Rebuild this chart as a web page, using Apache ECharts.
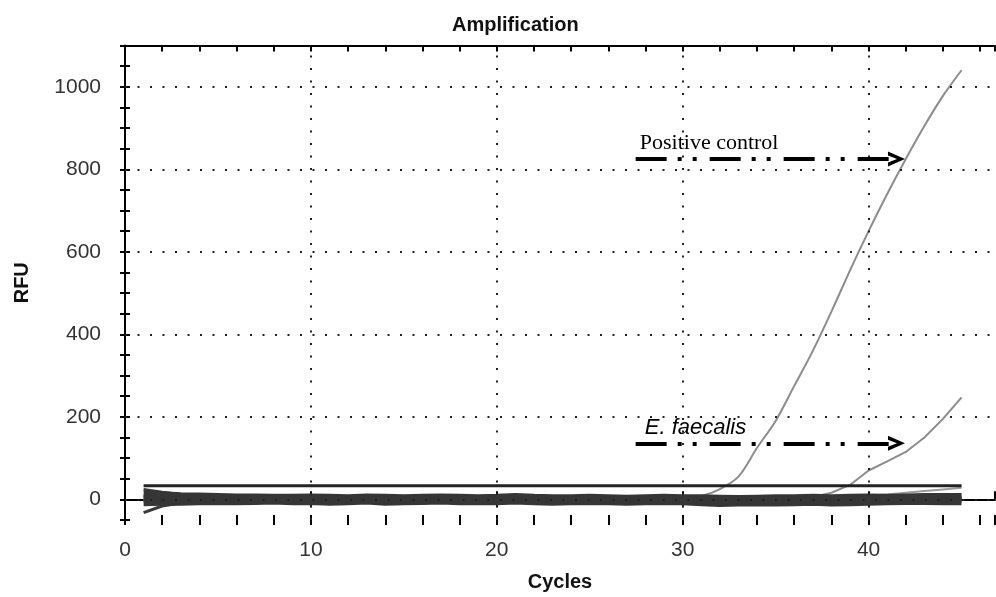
<!DOCTYPE html>
<html>
<head>
<meta charset="utf-8">
<script src="https://cdn.jsdelivr.net/npm/echarts@6/dist/echarts.min.js"></script>
<style>
  html, body { margin: 0; padding: 0; background: #fff; }
  #chart { width: 996px; height: 597px; }
</style>
</head>
<body>
<div id="chart"></div>
<script>
// cycles 1..45
const cycles = [1,2,3,4,5,6,7,8,9,10,11,12,13,14,15,16,17,18,19,20,21,22,23,24,25,26,27,28,29,30,31,32,33,34,35,36,37,38,39,40,41,42,43,44,45];

// the dark band of negative samples near 0
const baseA = [13,11,9,8,7,6,6,5,5,6,5,4,6,5,4,5,6,5,4,5,7,5,4,4,5,4,3,4,5,4,4,3,2,3,4,4,5,4,5,6,5,6,7,7,7];
const baseM = [2,1,1,0,1,0,1,0,-1,0,0,-1,1,-1,-1,0,1,0,-1,0,1,0,-1,-1,0,-1,-2,-1,0,-1,-2,-3,-3,-2,-3,-2,-1,-2,-1,0,0,0,1,1,1];
const baseB = [-8,-7,-7,-6,-5,-6,-5,-4,-6,-5,-7,-6,-4,-7,-6,-5,-4,-6,-5,-6,-4,-6,-7,-6,-5,-6,-7,-6,-5,-6,-8,-10,-9,-8,-9,-8,-7,-9,-8,-7,-6,-5,-5,-6,-6];
const fanTop = [24,17,12,9,7];
const fanBottom = [-32,-16,-9,-6];
const lateRise = [0,0,0,0,0,0,0,0,0,0,0,0,0,0,0,0,0,0,0,0,0,0,0,0,0,0,0,0,0,0,0,0,0,0,0,1,2,4,6,9,12,16,20,24,28];

const positive = [2,3,2,1,2,3,2,2,1,2,3,2,2,1,2,2,3,2,1,2,2,1,2,3,2,2,1,2,2,3,8,25,55,125,190,275,360,455,555,650,740,825,905,978,1040];
const faecalis = [-2,-2,-1,-2,-3,-2,-1,-2,-2,-3,-2,-1,-2,-2,-1,-2,-3,-2,-2,-1,-2,-2,-3,-2,-1,-2,-2,-1,-2,-2,-3,-2,-2,-1,-2,0,6,16,35,70,92,115,150,195,247];

const threshold = 33;

const xLabels = [0, 10, 20, 30, 40];
const yLabels = [0, 200, 400, 600, 800, 1000];

// annotations: label text, where the text starts, arrow start and end
const notePositive = { text: 'Positive control', textAt: [27.69, 864], from: [27.47, 825], to: [41.5, 825] };
const noteFaecalis = { text: 'E. faecalis', textAt: [27.96, 173], from: [27.47, 136], to: [41.5, 136] };

const pairs = arr => arr.map((v, i) => [cycles[i], v]);

const chart = echarts.init(document.getElementById('chart'));

const dotted = { color: '#222', width: 2, type: [2, 10.5] };
const gridMarks = [];
xLabels.slice(1).forEach(x => gridMarks.push([{ coord: [x, -50] }, { coord: [x, 1100] }]));
yLabels.forEach(y => gridMarks.push([{ coord: [0, y] }, { coord: [46.8, y] }]));

const chevron = 'path://M0,17 L7.5,0 L15,17 L11,17 L7.5,8 L4,17 Z';

const tickAxis = (extra) => Object.assign({
  type: 'value', min: 0, max: 46.8, gridIndex: 0,
  axisLine: { show: false }, axisLabel: { show: false }, splitLine: { show: false }
}, extra);

const band = { color: '#363636', width: 7 };

chart.setOption({
  animation: false,
  title: {
    text: 'Amplification',
    left: 447, top: 10,
    textStyle: { fontFamily: 'Liberation Sans', fontSize: 20, fontWeight: 'bold', color: '#111' }
  },
  grid: { left: 125, right: 1, top: 45.5, bottom: 76 },
  xAxis: [
    {
      type: 'value', min: 0, max: 46.8, interval: 10, position: 'bottom',
      name: 'Cycles', nameLocation: 'middle', nameGap: 52,
      nameTextStyle: { fontFamily: 'Liberation Sans', fontSize: 20, fontWeight: 'bold', color: '#111' },
      axisLine: { lineStyle: { color: '#000', width: 2 } },
      axisTick: { length: 8, lineStyle: { color: '#000', width: 2 } },
      axisLabel: { fontFamily: 'Liberation Sans', fontSize: 21, color: '#333', margin: 20, showMaxLabel: false },
      splitLine: { show: false }
    },
    tickAxis({ interval: 10, position: 'bottom', axisTick: { inside: true, length: 8, lineStyle: { color: '#000', width: 2 } } }),
    tickAxis({ interval: 2, position: 'bottom', axisTick: { length: 5, lineStyle: { color: '#000', width: 2 } } }),
    tickAxis({ interval: 2, position: 'bottom', axisTick: { inside: true, length: 5, lineStyle: { color: '#000', width: 2 } } }),
    tickAxis({ interval: 2, position: 'top', axisLine: { show: true, lineStyle: { color: '#000', width: 2 } },
      axisTick: { inside: true, length: 6, lineStyle: { color: '#000', width: 2 } } })
  ],
  yAxis: [
    {
      type: 'value', min: -50, max: 1100, interval: 50, position: 'left',
      name: 'RFU', nameLocation: 'middle', nameGap: 93,
      nameTextStyle: { fontFamily: 'Liberation Sans', fontSize: 20, fontWeight: 'bold', color: '#111' },
      axisLine: { lineStyle: { color: '#000', width: 2 } },
      axisTick: { length: 5, lineStyle: { color: '#000', width: 2 } },
      axisLabel: {
        fontFamily: 'Liberation Sans', fontSize: 21, color: '#333', margin: 24,
        formatter: v => yLabels.includes(v) ? String(v) : ''
      },
      splitLine: { show: false }
    },
    {
      type: 'value', min: -50, max: 1100, interval: 50, position: 'left',
      axisLine: { show: false }, axisLabel: { show: false }, splitLine: { show: false },
      axisTick: { inside: true, length: 5, lineStyle: { color: '#000', width: 2 } }
    }
  ],
  series: [
    {
      type: 'line', data: [], silent: true, z: 1,
      markLine: { silent: true, symbol: 'none', label: { show: false }, lineStyle: dotted, data: gridMarks }
    },
    { type: 'line', data: pairs(lateRise), symbol: 'none', lineStyle: { color: '#9a9a9a', width: 2 }, z: 2 },
    { type: 'line', data: pairs(positive), symbol: 'none', smooth: 0.3, lineStyle: { color: '#8c8c8c', width: 2 }, z: 2 },
    { type: 'line', data: pairs(faecalis), symbol: 'none', lineStyle: { color: '#8c8c8c', width: 2 }, z: 2 },
    { type: 'line', data: pairs(fanTop), symbol: 'none', lineStyle: { color: '#3a3a3a', width: 3 }, z: 3 },
    { type: 'line', data: pairs(fanBottom), symbol: 'none', lineStyle: { color: '#3a3a3a', width: 3 }, z: 3 },
    { type: 'line', data: pairs(baseA), symbol: 'none', lineStyle: band, z: 3 },
    { type: 'line', data: pairs(baseM), symbol: 'none', lineStyle: band, z: 3 },
    { type: 'line', data: pairs(baseB), symbol: 'none', lineStyle: band, z: 3 },
    {
      type: 'line', data: [[cycles[0], threshold], [cycles[cycles.length - 1], threshold]],
      symbol: 'none', lineStyle: { color: '#222', width: 3 }, z: 4
    },
    {
      type: 'line', data: [], silent: true, z: 6,
      markLine: {
        silent: true,
        symbol: ['none', chevron], symbolSize: [15, 17],
        label: { show: false },
        lineStyle: { color: '#000', width: 4, type: [31, 11, 4, 11, 4, 13] },
        data: [
          [{ coord: notePositive.from }, { coord: notePositive.to }],
          [{ coord: noteFaecalis.from }, { coord: noteFaecalis.to }]
        ]
      },
      markPoint: {
        silent: true, symbol: 'circle', symbolSize: 0,
        data: [
          {
            name: notePositive.text, coord: notePositive.textAt,
            label: { show: true, position: 'right', distance: 0, formatter: p => p.name,
              fontFamily: 'Liberation Serif', fontSize: 22, color: '#000' }
          },
          {
            name: noteFaecalis.text, coord: noteFaecalis.textAt,
            label: { show: true, position: 'right', distance: 0, formatter: p => p.name,
              fontFamily: 'Liberation Sans', fontStyle: 'italic', fontSize: 22, color: '#000' }
          }
        ]
      }
    }
  ]
});
</script>
</body>
</html>
